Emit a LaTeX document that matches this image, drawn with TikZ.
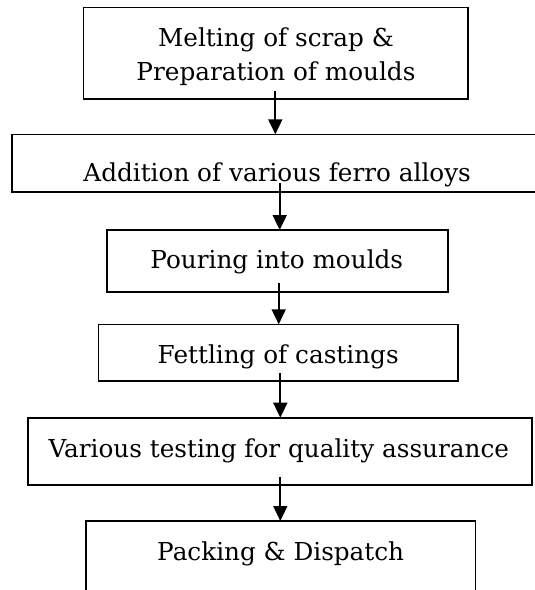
\documentclass[tikz,border=0pt]{standalone}
\usepackage{fontspec}
\setmainfont{DejaVu Serif}
\usetikzlibrary{arrows.meta}
\begin{document}
\begin{tikzpicture}[x=1pt,y=1pt,
  box/.style={draw, line width=1.6pt, rectangle, inner sep=0pt, outer sep=0pt},
  lbl/.style={anchor=base, inner sep=0pt, font=\fontsize{24.7}{33.3}\selectfont},
  arr/.style={line width=1.8pt, -{Triangle[width=14pt,length=15pt]}}]
\clip (0,0) rectangle (535,-590);
\fill[white] (0,0) rectangle (535,-590);
% boxes
\node[box, minimum width=384.7pt, minimum height=91.7pt] (b1) at (275.65,-53.15) {};
\node[box, minimum width=533.3pt, minimum height=57.4pt] (b2) at (278.35,-163) {};
\node[box, minimum width=341.3pt, minimum height=61.7pt] (b3) at (277.35,-260.85) {};
\node[box, minimum width=359.4pt, minimum height=56.7pt] (b4) at (278,-352.65) {};
\node[box, minimum width=504.3pt, minimum height=67.3pt] (b5) at (279.85,-451.35) {};
\node[box, minimum width=389.6pt, minimum height=119pt] (b6) at (280.5,-580.5) {};
% texts
\node[lbl] (t1a) at (276,-46.7) {Melting of scrap \&};
\node[lbl] (t1b) at (276,-80) {Preparation of moulds};
\node[lbl] (t2) at (277.2,-181.7) {Addition of various ferro alloys};
\node[lbl] (t3) at (276.8,-268) {Pouring into moulds};
\node[lbl] (t4) at (278.2,-363.3) {Fettling of castings};
\node[lbl] (t5) at (278.8,-457.7) {Various testing for quality assurance};
\node[lbl] (t6) at (280.7,-560) {Packing \& Dispatch};
% arrows
\coordinate (x1) at (275.3,0);
\coordinate (x2) at (279.7,0);
\coordinate (x3) at (278.7,0);
\coordinate (x4) at (280.3,0);
\coordinate (x5) at (280.3,0);
\path (x1 |- b1.south) ++(0,8.5) coordinate (s1);
\path (x2 |- b2.south) ++(0,8.5) coordinate (s2);
\path (x3 |- b3.south) ++(0,8.5) coordinate (s3);
\path (x4 |- b4.south) ++(0,8.5) coordinate (s4);
\path (x5 |- b5.south) ++(0,8.5) coordinate (s5);
\draw[arr] (s1) -- (x1 |- b2.north);
\draw[arr] (s2) -- (x2 |- b3.north);
\draw[arr] (s3) -- (x3 |- b4.north);
\draw[arr] (s4) -- (x4 |- b5.north);
\draw[arr] (s5) -- (x5 |- b6.north);
\end{tikzpicture}
\end{document}
